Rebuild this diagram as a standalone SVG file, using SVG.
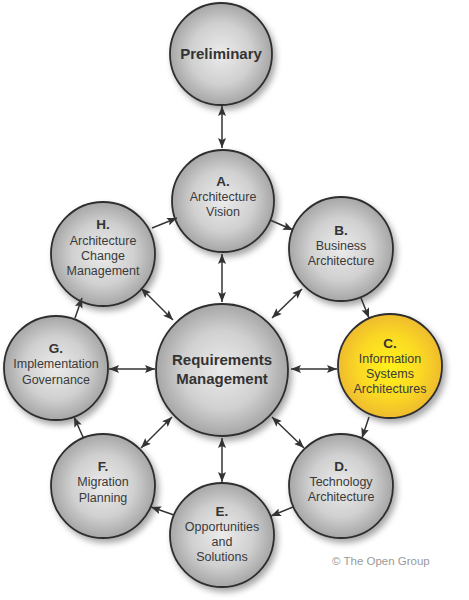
<svg xmlns="http://www.w3.org/2000/svg" width="469" height="600" viewBox="0 0 469 600">
<defs>
<radialGradient id="gGray" cx="50%" cy="50%" r="50%">
<stop offset="0" stop-color="#ebebeb"/>
<stop offset="0.6" stop-color="#d0d0d0"/>
<stop offset="1" stop-color="#a6a6a6"/>
</radialGradient>
<radialGradient id="gYellow" cx="50%" cy="50%" r="50%">
<stop offset="0" stop-color="#fff21a"/>
<stop offset="0.6" stop-color="#fbd924"/>
<stop offset="1" stop-color="#eebb2e"/>
</radialGradient>
<filter id="shadow" x="-20%" y="-20%" width="150%" height="150%">
<feDropShadow dx="3" dy="4" stdDeviation="3" flood-color="#000" flood-opacity="0.35"/>
</filter>
<marker id="ah" viewBox="0 0 10 8" refX="10" refY="4" markerWidth="10" markerHeight="8" markerUnits="userSpaceOnUse" orient="auto-start-reverse">
<path d="M0,0 L10,4 L0,8 L2,4 z" fill="#333"/>
</marker>
</defs>
<style>
.node circle{fill:url(#gGray);stroke:#2e2e2e;stroke-width:1.8;filter:url(#shadow)}
#C circle{fill:url(#gYellow)}
text{font-family:"Liberation Sans",Arial,sans-serif;text-anchor:middle;fill:#3a3a3a}
.t{font-size:12.5px}
.k{font-size:13.5px;font-weight:bold;fill:#333}
.big{font-size:15px;font-weight:bold;fill:#333}
.conn line{stroke:#333;stroke-width:1.5;fill:none}
.d{marker-start:url(#ah);marker-end:url(#ah)}
.s{marker-end:url(#ah)}
.copy{font-size:11.5px;fill:#9a9a9a;text-anchor:start}
</style>
<g id="Preliminary" class="node">
<circle cx="221" cy="54" r="51"/>
<text class="big" x="221" y="59">Preliminary</text>
</g>
<g id="A" class="node">
<circle cx="223" cy="201" r="51"/>
<text class="k" x="223" y="186">A.</text>
<text class="t" x="223" y="201">Architecture</text>
<text class="t" x="223" y="216">Vision</text>
</g>
<g id="B" class="node">
<circle cx="341" cy="249" r="52"/>
<text class="k" x="341" y="235">B.</text>
<text class="t" x="341" y="250">Business</text>
<text class="t" x="341" y="265">Architecture</text>
</g>
<g id="C" class="node">
<circle cx="390" cy="366" r="52"/>
<text class="k" x="390" y="348">C.</text>
<text class="t" x="390" y="363">Information</text>
<text class="t" x="390" y="378">Systems</text>
<text class="t" x="390" y="393">Architectures</text>
</g>
<g id="D" class="node">
<circle cx="341" cy="486" r="52"/>
<text class="k" x="341" y="471">D.</text>
<text class="t" x="341" y="486">Technology</text>
<text class="t" x="341" y="501">Architecture</text>
</g>
<g id="E" class="node">
<circle cx="222" cy="535" r="52"/>
<text class="k" x="222" y="516">E.</text>
<text class="t" x="222" y="531">Opportunities</text>
<text class="t" x="222" y="546">and</text>
<text class="t" x="222" y="561">Solutions</text>
</g>
<g id="F" class="node">
<circle cx="103" cy="486" r="52"/>
<text class="k" x="103" y="471">F.</text>
<text class="t" x="103" y="486">Migration</text>
<text class="t" x="103" y="502">Planning</text>
</g>
<g id="G" class="node">
<circle cx="56" cy="368" r="52"/>
<text class="k" x="56" y="353">G.</text>
<text class="t" x="56" y="368">Implementation</text>
<text class="t" x="56" y="384">Governance</text>
</g>
<g id="H" class="node">
<circle cx="103" cy="254" r="52"/>
<text class="k" x="103" y="229">H.</text>
<text class="t" x="103" y="245">Architecture</text>
<text class="t" x="103" y="260">Change</text>
<text class="t" x="103" y="275">Management</text>
</g>
<g id="RM" class="node">
<circle cx="222" cy="370" r="66"/>
<text class="big" x="222" y="365">Requirements</text>
<text class="big" x="222" y="384">Management</text>
</g>
<g id="connectors" class="conn">
<line class="d" x1="222" y1="106" x2="222" y2="148"/>
<line class="d" x1="222" y1="254" x2="222" y2="302"/>
<line class="d" x1="222" y1="438" x2="222" y2="482"/>
<line class="d" x1="109" y1="369" x2="155" y2="369"/>
<line class="d" x1="291" y1="369" x2="337" y2="369"/>
<line class="d" x1="141" y1="288" x2="173" y2="320"/>
<line class="d" x1="272" y1="318" x2="302" y2="289"/>
<line class="d" x1="272" y1="417" x2="304" y2="448"/>
<line class="d" x1="172" y1="417" x2="141" y2="448"/>
<line class="s" x1="270" y1="220" x2="293" y2="230"/>
<line class="s" x1="361" y1="298" x2="369" y2="318"/>
<line class="s" x1="369" y1="417" x2="362" y2="438"/>
<line class="s" x1="293" y1="507" x2="271" y2="516"/>
<line class="s" x1="174" y1="515" x2="151" y2="507"/>
<line class="s" x1="83" y1="437" x2="74" y2="417"/>
<line class="s" x1="75" y1="318" x2="82" y2="298"/>
<line class="s" x1="152" y1="228" x2="177" y2="218"/>
</g>
<text class="copy" x="332" y="565">© The Open Group</text>
</svg>
